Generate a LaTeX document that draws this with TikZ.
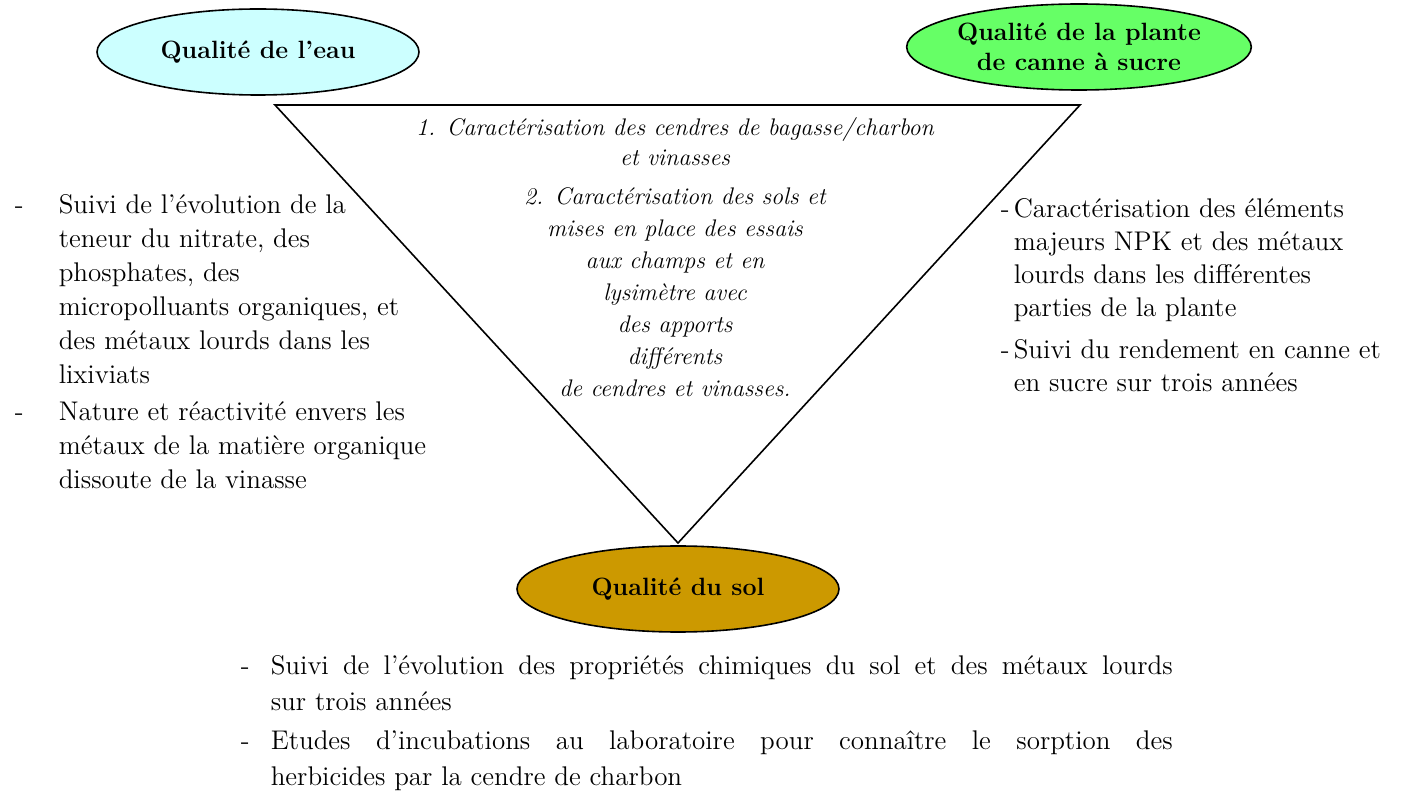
\documentclass[tikz,border=0pt]{standalone}
\usetikzlibrary{shapes.geometric}
\definecolor{eaucol}{HTML}{CCFFFF}
\definecolor{plantecol}{HTML}{66FF66}
\definecolor{solcol}{HTML}{CC9900}
\newcommand{\tiret}{\vphantom{l}-}
\begin{document}
\begin{tikzpicture}[x=0.5pt,y=-0.5pt,line width=0.8pt,
    qual/.style={ellipse,draw,inner sep=0pt,align=center,
      minimum width=161pt,minimum height=43pt,
      font=\fontsize{12.5}{15}\selectfont\bfseries},
    txt/.style={inner sep=0pt,anchor=north west,align=left,
      font=\fontsize{13.5}{17}\selectfont},
    ita/.style={inner sep=0pt,anchor=north,align=center,
      font=\fontsize{12}{15}\selectfont\itshape}]
  \useasboundingbox (0,0) rectangle (1405,791);
  \node[qual,fill=eaucol] (eau) at (258,52) {Qualité de l’eau};
  \node[qual,fill=plantecol,minimum width=156pt] (plante) at (1079,47)
    {Qualité de la plante\\de canne à sucre};
  \node[qual,fill=solcol] (sol) at (678,589) {Qualité du sol};
  \coordinate (tl) at (275,105);
  \coordinate (tr) at (1080,105);
  \coordinate (bas) at (678,543);
  \draw (tl) -- (tr) -- (bas) -- cycle;
  \node[ita] (essai1) at (675,117)
    {1. Caractérisation des cendres de bagasse/charbon\\et vinasses};
  \node[ita,font=\fontsize{12}{16}\selectfont\itshape] (essai2) at (675,187)
    {2. Caractérisation des sols et\\mises en place des essais\\aux champs et en\\
     lysimètre avec\\des apports\\différents\\de cendres et vinasses.};
  \node[txt] (eau1d) at (14,194) {\tiret};
  \node[txt] (eau1) at (58,194) {Suivi de l’évolution de la\\teneur du nitrate, des\\
    phosphates, des\\micropolluants organiques, et\\des métaux lourds dans les\\lixiviats};
  \node[txt] (eau2d) at (14,401) {\tiret};
  \node[txt] (eau2) at (58,401) {Nature et réactivité envers les\\
    métaux de la matière organique\\dissoute de la vinasse};
  \node[txt] (plante1d) at (1000,198) {\tiret};
  \node[txt,font=\fontsize{13.5}{16.5}\selectfont] (plante1) at (1013,198)
    {Caractérisation des éléments\\majeurs NPK et des métaux\\lourds dans les différentes\\parties de la plante};
  \node[txt] (plante2d) at (1000,339) {\tiret};
  \node[txt,font=\fontsize{13.5}{16.5}\selectfont] (plante2) at (1013,339)
    {Suivi du rendement en canne et\\en sucre sur trois années};
  \node[txt] (sol1d) at (240,655) {\tiret};
  \node[txt,align=justify,text width=451pt,font=\fontsize{13.5}{18}\selectfont] (sol1) at (270,655)
    {Suivi de l’évolution des propriétés chimiques du sol et des métaux lourds\linebreak sur trois années};
  \node[txt] (sol2d) at (240,730) {\tiret};
  \node[txt,align=justify,text width=451pt,font=\fontsize{13.5}{18}\selectfont] (sol2) at (270,730)
    {Etudes d’incubations au laboratoire pour connaître le sorption des\linebreak herbicides par la cendre de charbon};
\end{tikzpicture}
\end{document}
